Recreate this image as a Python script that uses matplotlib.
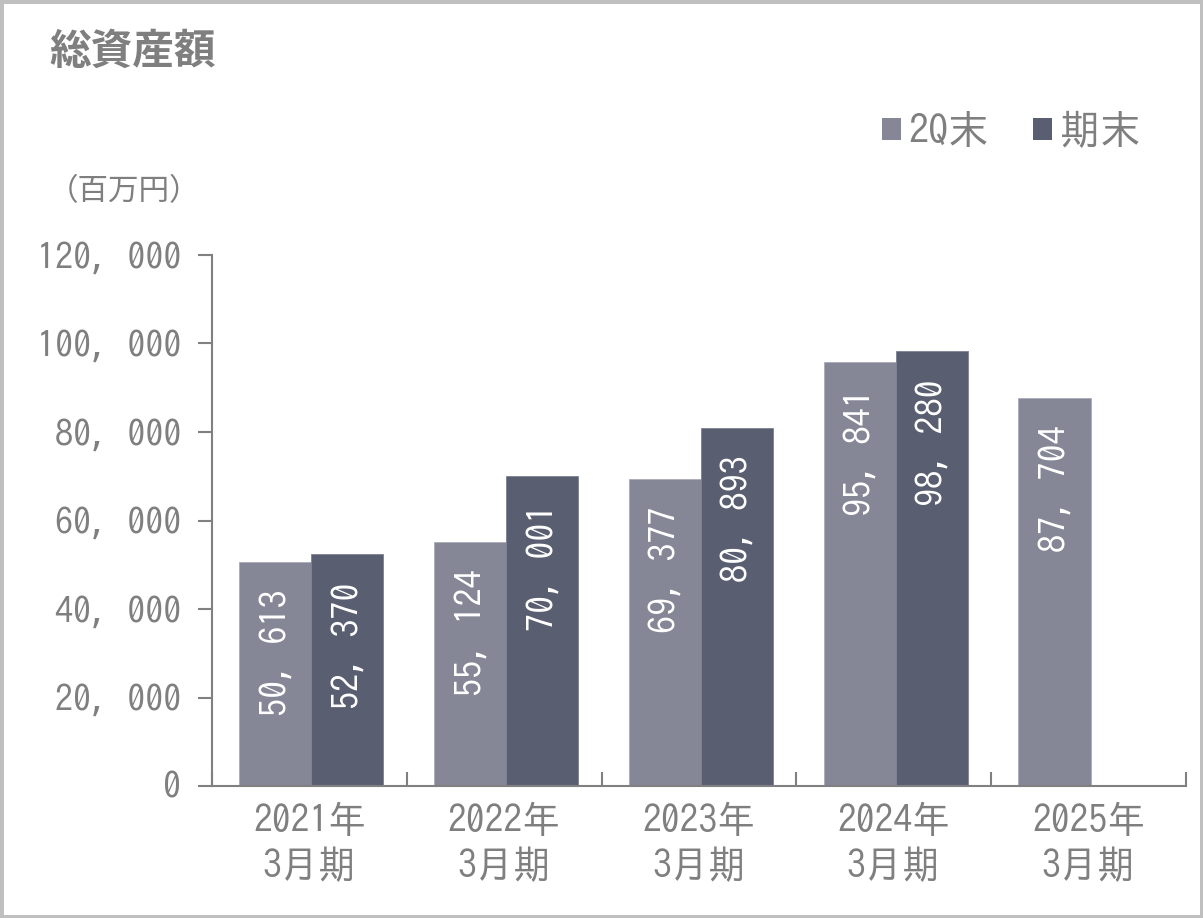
import matplotlib
matplotlib.use("Agg")
import matplotlib.pyplot as plt
from matplotlib import font_manager
from matplotlib.patches import Rectangle
import numpy as np

# ---- data ----
categories = ["2021年\n3月期", "2022年\n3月期", "2023年\n3月期", "2024年\n3月期", "2025年\n3月期"]
q2_values = [50613, 55124, 69377, 95841, 87704]
fy_values = [52370, 70001, 80893, 98280, None]
series_names = ["2Q末", "期末"]
y_ticks = [0, 20000, 40000, 60000, 80000, 100000, 120000]
title = "総資産額"
unit = "（百万円）"

# ---- style ----
C_Q2 = "#858797"
C_FY = "#5a5e71"
C_TXT = "#7f7f7f"
C_AX = "#808080"

names = {f.name for f in font_manager.fontManager.ttflist}
NUM_FAM = [f for f in ["IPAGothic", "Noto Sans CJK JP", "DejaVu Sans"] if f in names or f == "DejaVu Sans"]
CJK_FAM = ["Noto Sans CJK JP", "DejaVu Sans"]
plt.rcParams["font.family"] = NUM_FAM

W, H = 1203, 918
fig = plt.figure(figsize=(W / 100, H / 100), dpi=100)
fig.patch.set_facecolor("white")
ax = fig.add_axes([212 / W, 1 - 786 / H, (1186 - 212) / W, (786 - 255) / H])

x = np.arange(len(categories))
bw = 0.37
q2_x = x - bw / 2 + 0.01
fy_idx = [i for i, v in enumerate(fy_values) if v is not None]
fy_x = np.array([x[i] + bw / 2 + 0.01 for i in fy_idx])
fy_v = [fy_values[i] for i in fy_idx]

b1 = ax.bar(q2_x, q2_values, width=bw, color=C_Q2, edgecolor="#a9abb8", linewidth=0.6, label=series_names[0], zorder=2)
b2 = ax.bar(fy_x, fy_v, width=bw, color=C_FY, edgecolor="#7c8090", linewidth=0.6, label=series_names[1], zorder=2)

def fmt(v):
    return f"{v:,}".replace(",", ", ")

for xs, vs in ((q2_x, q2_values), (fy_x, fy_v)):
    for xi, v in zip(xs, vs):
        ax.annotate(fmt(v), xy=(xi, v), xytext=(0, -20), textcoords="offset points",
                    rotation=90, ha="center", va="top", color="white",
                    fontsize=26, family=NUM_FAM, zorder=3)

ax.set_xlim(-0.5, 4.5)
ax.set_ylim(0, 120000)
ax.set_yticks(y_ticks)
ax.set_yticklabels([fmt(v) for v in y_ticks], fontsize=26, color=C_TXT, family=NUM_FAM)
ax.tick_params(axis="y", direction="out", length=10, width=1.5, color=C_AX, pad=12)

ax.set_xticks(x)
ax.set_xticklabels(categories, fontsize=27, color=C_TXT, family=NUM_FAM, linespacing=1.3)
ax.tick_params(axis="x", which="major", length=0, pad=12)
ax.set_xticks(np.arange(-0.5, 4.6, 1.0), minor=True)
ax.tick_params(axis="x", which="minor", direction="in", length=10, width=1.5, color=C_AX)

for s in ("top", "right"):
    ax.spines[s].set_visible(False)
for s in ("left", "bottom"):
    ax.spines[s].set_color(C_AX)
    ax.spines[s].set_linewidth(1.5)

fig.text(49 / W, 1 - 52 / H, title, fontsize=30, fontweight="bold", color=C_TXT,
         family=CJK_FAM, ha="left", va="center")
fig.text(48 / W, 1 - 192 / H, unit, fontsize=22, color=C_TXT, family=CJK_FAM,
         ha="left", va="center")

leg = fig.legend(handles=[b1, b2], labels=series_names, loc="center left",
                 bbox_to_anchor=(882 / W, 1 - 129 / H), ncol=2, frameon=False,
                 handlelength=0.46, handleheight=0.46, handletextpad=0.2,
                 columnspacing=1.1, borderpad=0, borderaxespad=0,
                 prop={"family": NUM_FAM, "size": 29})
for t in leg.get_texts():
    t.set_color(C_TXT)
for h in leg.legend_handles:
    h.set_linewidth(0)

fig.patches.append(Rectangle((0, 0), 1, 1, transform=fig.transFigure, fill=False,
                             edgecolor="#bfbfbf", linewidth=5, zorder=10))

fig.savefig("out.png", dpi=100)
